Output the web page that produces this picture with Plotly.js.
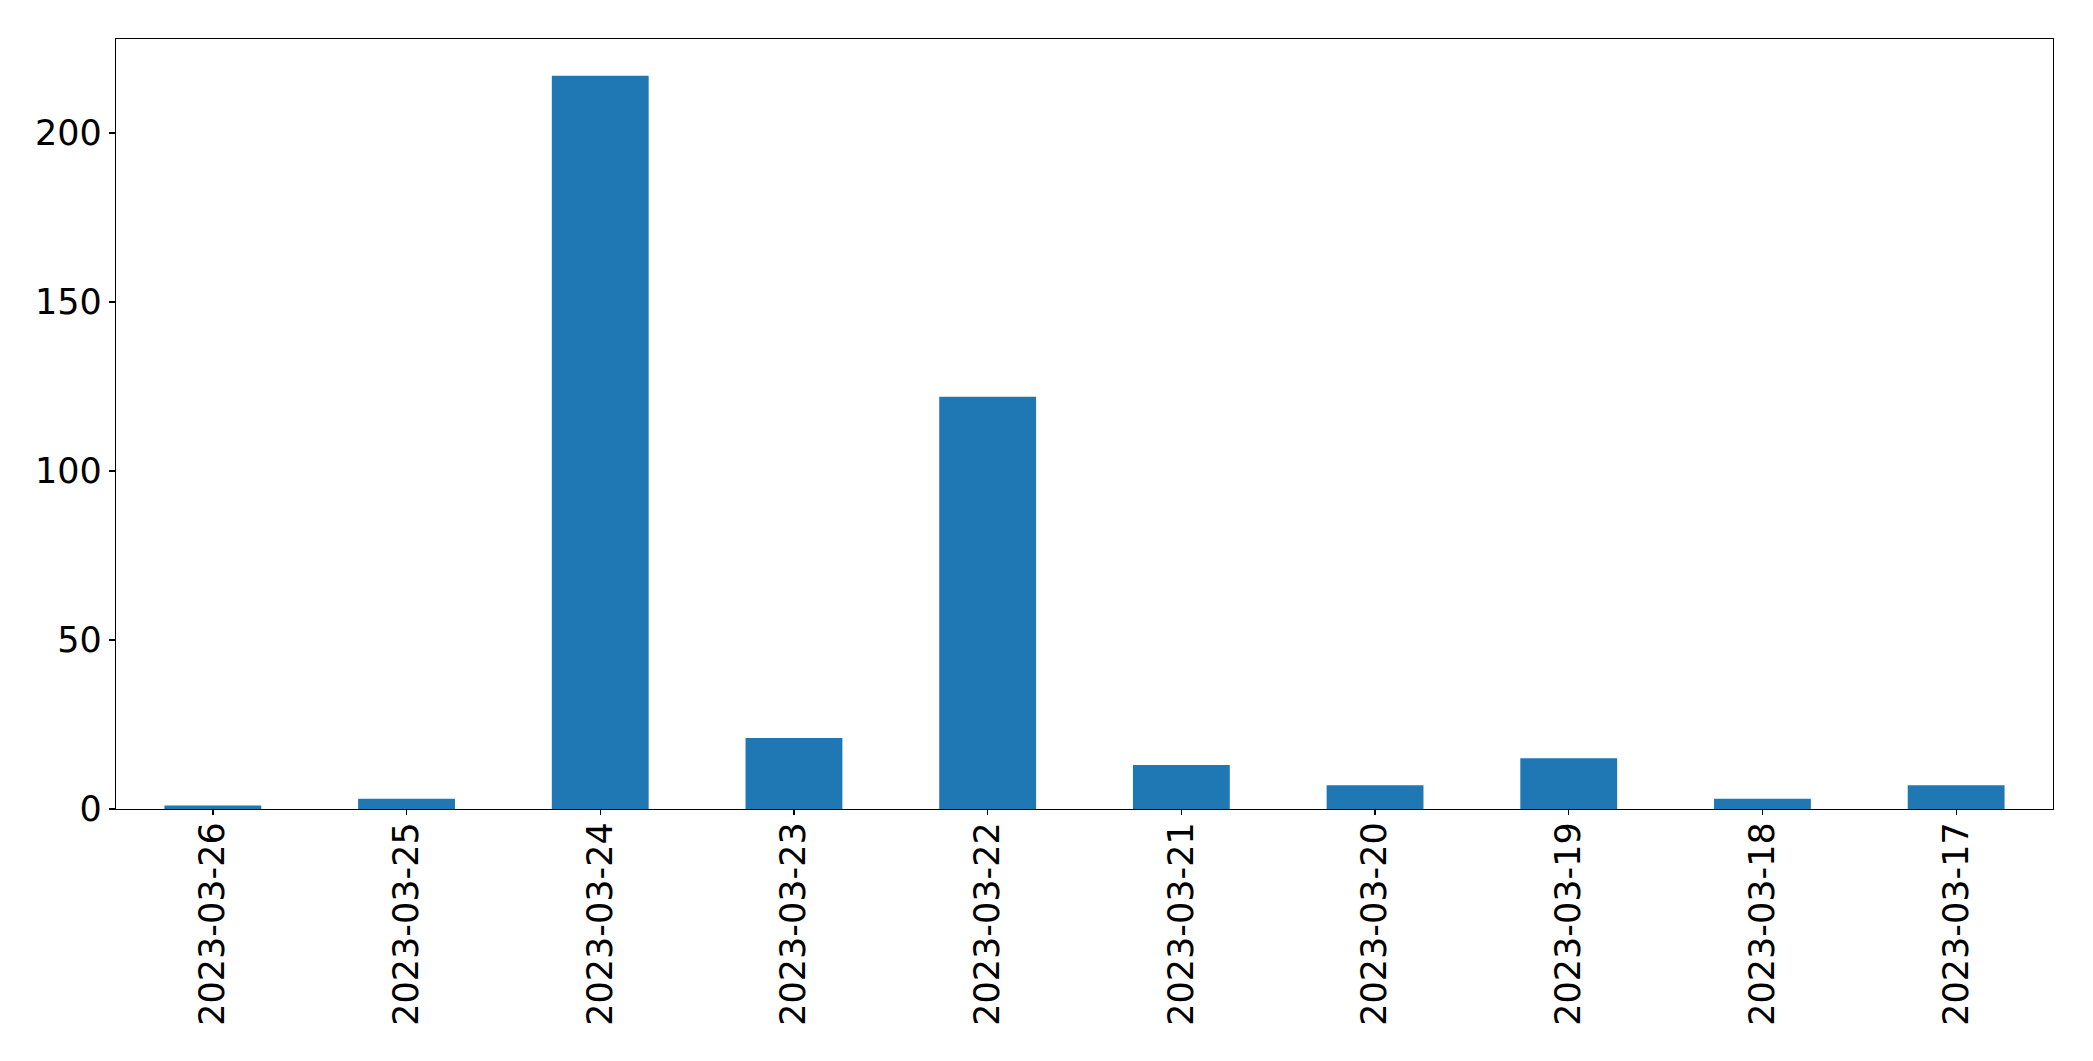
<!DOCTYPE html>
<html>
<head>
<meta charset="utf-8">
<script src="https://cdn.plot.ly/plotly-3.0.1.min.js"></script>
<style>html,body{margin:0;padding:0;background:#fff;}#chart{width:2093px;height:1061px;}</style>
</head>
<body>
<div id="chart"></div>
<script>
const dates = ["2023-03-26","2023-03-25","2023-03-24","2023-03-23","2023-03-22","2023-03-21","2023-03-20","2023-03-19","2023-03-18","2023-03-17"];
const counts = [1, 3, 217, 21, 122, 13, 7, 15, 3, 7];
const yTicks = [0, 50, 100, 150, 200];

const trace = {
  type: "bar",
  x: dates,
  y: counts,
  marker: {color: "#1f77b4", line: {width: 0}},
  hoverinfo: "x+y"
};

const font = {family: "DejaVu Sans, sans-serif", size: 35, color: "#000"};

const layout = {
  width: 2093,
  height: 1061,
  margin: {l: 116, r: 40, t: 39, b: 252, pad: 0},
  paper_bgcolor: "#fff",
  plot_bgcolor: "#fff",
  showlegend: false,
  bargap: 0.5,
  font: font,
  xaxis: {
    type: "category",
    range: [-0.5, 9.5],
    tickangle: -90,
    tickfont: font,
    ticklabelstandoff: -7,
    showline: true, mirror: true, linecolor: "#000", linewidth: 1.3,
    ticks: "outside", ticklen: 5, tickwidth: 1.3, tickcolor: "#000",
    showgrid: false, zeroline: false
  },
  yaxis: {
    range: [0, 227.85],
    tickvals: yTicks,
    ticktext: yTicks.map(String),
    tickfont: font,
    showline: true, mirror: true, linecolor: "#000", linewidth: 1.3,
    ticks: "outside", ticklen: 6, tickwidth: 1.3, tickcolor: "#000",
    showgrid: false, zeroline: false
  }
};

Plotly.newPlot("chart", [trace], layout, {displayModeBar: false, staticPlot: true});
</script>
</body>
</html>
